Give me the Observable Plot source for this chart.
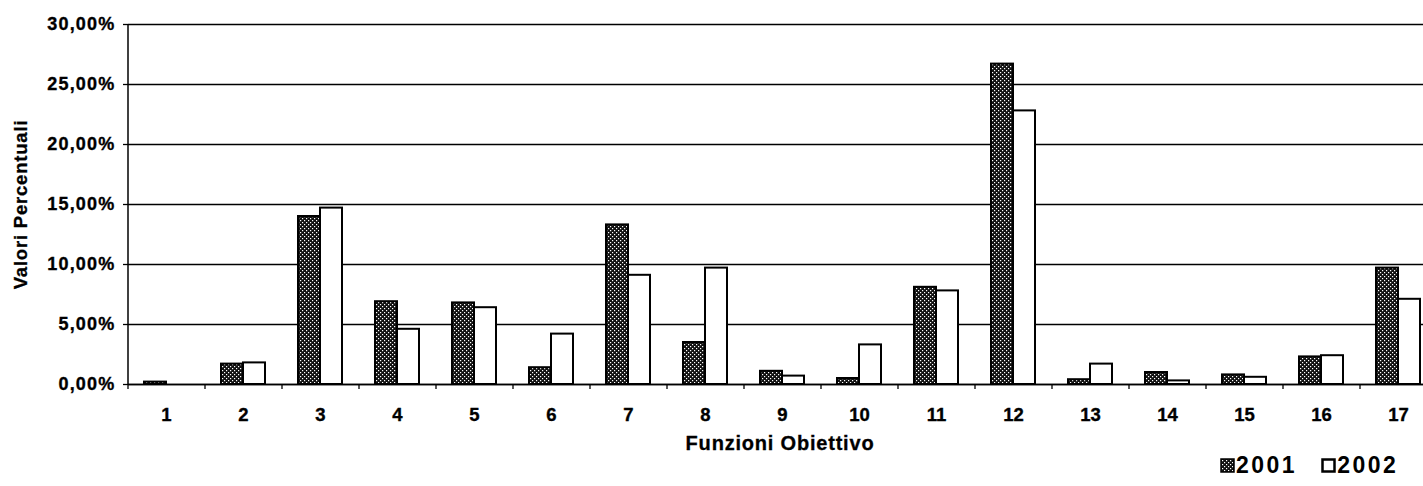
<!DOCTYPE html>
<html>
<head>
<meta charset="utf-8">
<script src="https://cdn.jsdelivr.net/npm/d3@7"></script>
<script src="https://cdn.jsdelivr.net/npm/@observablehq/plot@0.6"></script>
<style>
  html, body { margin: 0; padding: 0; background: #fff; }
  #wrap { position: relative; width: 1423px; height: 486px; overflow: hidden; font-family: "Liberation Sans", Arial, sans-serif; }
  #legend { position: absolute; left: 1220px; top: 452px; font-weight: bold; font-size: 23px; letter-spacing: 2.5px; color: #000; display: flex; align-items: center; white-space: nowrap; }
  #legend .sw { display: inline-block; width: 15px; height: 15px; margin-right: 1px; }
  #legend .item { display: flex; align-items: center; margin-right: 24px; }
</style>
</head>
<body>
<div id="wrap">
  <div id="chart"></div>
  <div id="legend"></div>
</div>
<script>
const categories = ["1","2","3","4","5","6","7","8","9","10","11","12","13","14","15","16","17"];
const values2001 = [0.2, 1.7, 14.0, 6.9, 6.8, 1.4, 13.3, 3.5, 1.1, 0.5, 8.1, 26.7, 0.4, 1.0, 0.8, 2.3, 9.7];
const values2002 = [0.0, 1.8, 14.7, 4.6, 6.4, 4.2, 9.1, 9.7, 0.7, 3.3, 7.8, 22.8, 1.7, 0.3, 0.6, 2.4, 7.1];
const years = ["2001", "2002"];
const yTicks = [0, 5, 10, 15, 20, 25, 30];
const xTitle = "Funzioni Obiettivo";
const yTitle = "Valori Percentuali";

const rows2001 = categories.map((c, i) => ({cat: c, value: values2001[i]}));
const rows2002 = categories.map((c, i) => ({cat: c, value: values2002[i]}));

const fmt = v => v.toFixed(2).replace(".", ",") + "%";
const font = "Liberation Sans, Arial, sans-serif";

const chart = Plot.plot({
  width: 1423,
  height: 486,
  marginLeft: 128,
  marginRight: 0,
  marginTop: 24,
  marginBottom: 102,
  style: {fontFamily: font, fontWeight: "bold", color: "#000", background: "#fff"},
  x: {domain: categories, range: [128, 1437], paddingInner: 33/77, paddingOuter: 16.5/77, label: null},
  y: {domain: [0, 30], label: null},
  marks: [
    Plot.gridY(yTicks, {stroke: "#000", strokeOpacity: 1, strokeWidth: 1.3}),
    Plot.barY(rows2001, {x: "cat", y: "value", insetRight: 22, fill: "url(#dots2001)", stroke: "#000", strokeWidth: 2}),
    Plot.barY(rows2002, {x: "cat", y: "value", insetLeft: 22, fill: "#fff", stroke: "#000", strokeWidth: 2}),
    Plot.ruleY([0], {stroke: "#000", strokeWidth: 1.5}),
    Plot.ruleX([categories[0]], {stroke: "#000", strokeWidth: 1.5, dx: -38.5}),
    Plot.axisY({ticks: yTicks, tickFormat: fmt, tickSize: 5, tickPadding: 8, stroke: "#000", strokeWidth: 1.3, label: null}),
    Plot.axisX({tickSize: 5, tickFormat: () => "", dx: -38.5, stroke: "#000", strokeWidth: 1.3, label: null}),
    Plot.axisX({tickSize: 0, tickPadding: 23, label: null}),
    Plot.text([xTitle], {frameAnchor: "bottom", lineAnchor: "middle", textAnchor: "middle", dy: 59, dx: 4, fontSize: 20, fontWeight: "bold", fill: "#000"}),
    Plot.text([yTitle], {frameAnchor: "left", textAnchor: "middle", lineAnchor: "middle", dx: -107, rotate: -90, fontSize: 18.5, fontWeight: "bold", fill: "#000"})
  ]
});

// pattern definition for the 2001 fill
const ns = "http://www.w3.org/2000/svg";
const defs = document.createElementNS(ns, "defs");
defs.innerHTML = `<pattern id="dots2001" patternUnits="userSpaceOnUse" width="4" height="4">
  <rect width="4" height="4" fill="#111"/>
  <rect x="0" y="0" width="1.2" height="1.2" fill="#fff"/>
  <rect x="2" y="2" width="1.2" height="1.2" fill="#fff"/>
</pattern>`;
chart.insertBefore(defs, chart.firstChild);

// tick-label typography (heavier, like the scanned original)
chart.querySelectorAll("g[aria-label='y-axis tick label']").forEach(g => {
  g.setAttribute("font-size", 18); g.setAttribute("letter-spacing", 1.2);
  g.setAttribute("stroke", "#000"); g.setAttribute("stroke-width", 0.35);
});
chart.querySelectorAll("g[aria-label='x-axis tick label']").forEach(g => {
  g.setAttribute("font-size", 18.5);
  g.setAttribute("stroke", "#000"); g.setAttribute("stroke-width", 0.35);
});
chart.querySelectorAll("g[aria-label='text']").forEach(g => {
  g.setAttribute("letter-spacing", 0.8);
  g.setAttribute("stroke", "#000"); g.setAttribute("stroke-width", 0.3);
});
document.getElementById("chart").appendChild(chart);

// legend
const legend = document.getElementById("legend");
years.forEach((yr, i) => {
  const item = document.createElement("span");
  item.className = "item";
  const sw = document.createElementNS(ns, "svg");
  sw.setAttribute("width", 15); sw.setAttribute("height", 15);
  sw.setAttribute("class", "sw");
  sw.innerHTML = i === 0
    ? `<rect x="1" y="1" width="13" height="13" fill="url(#dots2001)" stroke="#000" stroke-width="1.5"/>`
    : `<rect x="1.5" y="1.5" width="12" height="12" fill="#fff" stroke="#000" stroke-width="2.5"/>`;
  item.appendChild(sw);
  const t = document.createElement("span");
  t.textContent = yr;
  item.appendChild(t);
  legend.appendChild(item);
});
</script>
</body>
</html>
